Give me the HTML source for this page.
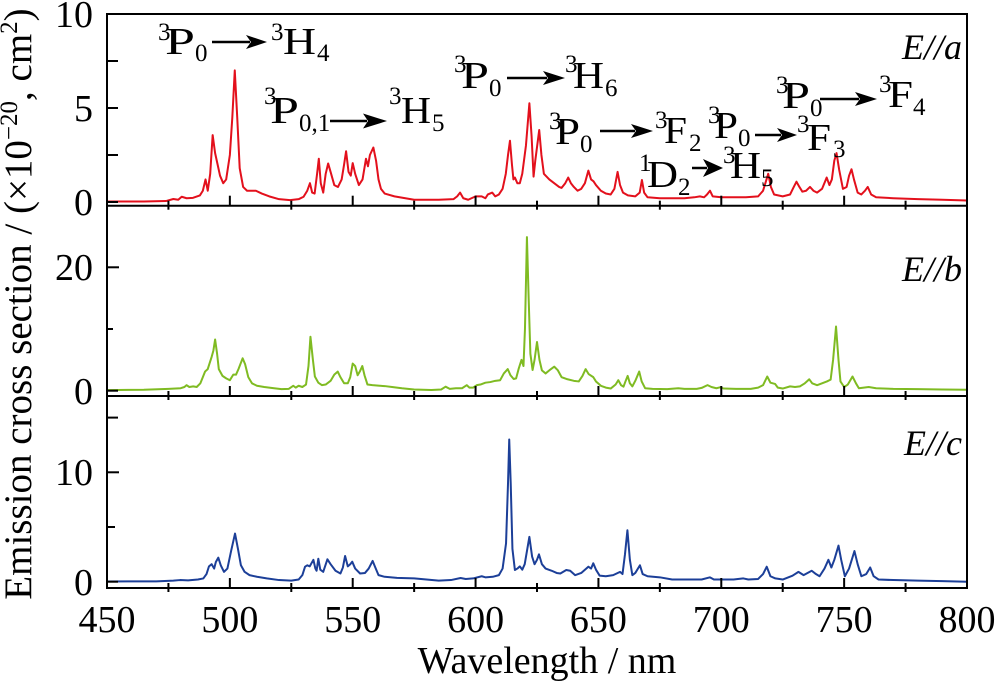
<!DOCTYPE html>
<html><head><meta charset="utf-8"><style>
html,body{margin:0;padding:0;background:#fff;}
svg{display:block;}
text{font-family:"Liberation Serif","DejaVu Serif",serif;fill:#000;}
</style></head><body>
<svg id="s" width="1000" height="692" viewBox="0 0 1000 692" xmlns="http://www.w3.org/2000/svg" font-family="'Liberation Serif', serif">
<rect x="0" y="0" width="1000" height="692" fill="#fff"/>
<g id="curves" fill="none" stroke-width="2" stroke-linejoin="round" stroke-linecap="round"></g>
<g id="axes" stroke="#000" stroke-width="2" fill="none">
 <rect x="107" y="14" width="860" height="574"/>
 <line x1="107" y1="205.7" x2="967" y2="205.7"/>
 <line x1="107" y1="396" x2="967" y2="396"/>
</g>
<g id="ticks" stroke="#000" stroke-width="2"></g>

<!-- y tick labels -->
<g font-size="38" text-anchor="end" font-family="'Liberation Serif', serif">
 <text x="93" y="27">10</text>
 <text x="93" y="121">5</text>
 <text x="93" y="215">0</text>
 <text x="93" y="280">20</text>
 <text x="93" y="404">0</text>
 <text x="93" y="485">10</text>
 <text x="93" y="595">0</text>
</g>
<!-- x tick labels -->
<g font-size="38" text-anchor="middle" font-family="'Liberation Serif', serif">
 <text x="107" y="632">450</text>
 <text x="229.9" y="632">500</text>
 <text x="352.7" y="632">550</text>
 <text x="475.6" y="632">600</text>
 <text x="598.4" y="632">650</text>
 <text x="721.3" y="632">700</text>
 <text x="844.1" y="632">750</text>
 <text x="967" y="632">800</text>
</g>
<text x="547" y="673" font-size="38" text-anchor="middle" font-family="'Liberation Serif', serif">Wavelength / nm</text>
<text transform="translate(31,304) rotate(-90)" font-size="39" text-anchor="middle" font-family="'Liberation Serif', serif">Emission cross section / (×10<tspan dy="-14" font-size="25">−20</tspan><tspan dy="14">, cm</tspan><tspan dy="-14" font-size="25">2</tspan><tspan dy="14">)</tspan></text>

<!-- panel labels -->
<g font-size="36" font-style="italic" text-anchor="end" font-family="'Liberation Serif', serif">
 <text x="962" y="59">E//a</text>
 <text x="962" y="281">E//b</text>
 <text x="962" y="455">E//c</text>
</g>

<!-- annotations -->
<g id="ann" font-family="'Liberation Serif', serif">
 <!-- 3P0 -> 3H4 -->
 <text x="158" y="40" font-size="25">3</text>
 <text x="165" y="54" font-size="38" textLength="30" lengthAdjust="spacingAndGlyphs">P</text>
 <text x="195" y="61" font-size="25">0</text>
 <text x="271" y="40" font-size="25">3</text>
 <text x="283" y="54" font-size="38" textLength="33" lengthAdjust="spacingAndGlyphs">H</text>
 <text x="317" y="61" font-size="25">4</text>
 <!-- 3P0,1 -> 3H5 -->
 <text x="264" y="104" font-size="25">3</text>
 <text x="270" y="123" font-size="38" textLength="29" lengthAdjust="spacingAndGlyphs">P</text>
 <text x="299" y="131" font-size="25">0,1</text>
 <text x="389" y="104" font-size="25">3</text>
 <text x="401" y="123" font-size="38" textLength="30" lengthAdjust="spacingAndGlyphs">H</text>
 <text x="432" y="131" font-size="25">5</text>
 <!-- 3P0 -> 3H6 -->
 <text x="454" y="72" font-size="25">3</text>
 <text x="461" y="88" font-size="38" textLength="28" lengthAdjust="spacingAndGlyphs">P</text>
 <text x="489" y="96" font-size="25">0</text>
 <text x="565" y="72" font-size="25">3</text>
 <text x="573" y="88" font-size="38" textLength="31" lengthAdjust="spacingAndGlyphs">H</text>
 <text x="605" y="96" font-size="25">6</text>
 <!-- 3P0 -> 3F2 -->
 <text x="549" y="129" font-size="25">3</text>
 <text x="555" y="144" font-size="38" textLength="25" lengthAdjust="spacingAndGlyphs">P</text>
 <text x="580" y="152" font-size="25">0</text>
 <text x="655" y="128" font-size="25">3</text>
 <text x="664" y="143" font-size="38" textLength="23" lengthAdjust="spacingAndGlyphs">F</text>
 <text x="689" y="151" font-size="25">2</text>
 <!-- 3P0 -> 3F3 -->
 <text x="708" y="123" font-size="25">3</text>
 <text x="714" y="138" font-size="38" textLength="24" lengthAdjust="spacingAndGlyphs">P</text>
 <text x="738" y="146" font-size="25">0</text>
 <text x="797" y="132" font-size="25">3</text>
 <text x="807" y="150" font-size="38" textLength="24" lengthAdjust="spacingAndGlyphs">F</text>
 <text x="833" y="157" font-size="25">3</text>
 <!-- 3P0 -> 3F4 -->
 <text x="776" y="93" font-size="25">3</text>
 <text x="782" y="108" font-size="38" textLength="28" lengthAdjust="spacingAndGlyphs">P</text>
 <text x="810" y="116" font-size="25">0</text>
 <text x="879" y="92" font-size="25">3</text>
 <text x="888" y="107" font-size="38" textLength="25" lengthAdjust="spacingAndGlyphs">F</text>
 <text x="913" y="115" font-size="25">4</text>
 <!-- 1D2 -> 3H5 -->
 <text x="639" y="171" font-size="25">1</text>
 <text x="647" y="187" font-size="38" textLength="31" lengthAdjust="spacingAndGlyphs">D</text>
 <text x="678" y="195" font-size="25">2</text>
 <text x="723" y="163" font-size="25">3</text>
 <text x="730" y="178" font-size="38" textLength="31" lengthAdjust="spacingAndGlyphs">H</text>
 <text x="761" y="186" font-size="25">5</text>
</g>
<g id="arrows"></g>
</svg>
<script>
(function(){
var NS="http://www.w3.org/2000/svg";
function X(l){return 107+(l-450)*860/350;}
function el(tag,attrs,parent){var e=document.createElementNS(NS,tag);for(var k in attrs)e.setAttribute(k,attrs[k]);parent.appendChild(e);return e;}
var red=[[450,0.03],[465,0.03],[474,0.05],[477,0.16],[479,0.12],[480.4,0.28],[482.4,0.2],[485,0.22],[487.8,0.35],[489,0.6],[490.1,1.2],[491,0.6],[492,1.5],[493,3.56],[494,2.6],[495,2.0],[496,1.4],[497.3,1.0],[498.5,1.2],[500,2.5],[501,4.5],[502,7.0],[503,4.5],[504,1.8],[505.4,0.8],[507,0.6],[510.6,0.6],[513,0.45],[516,0.3],[520,0.15],[524.5,0.1],[528,0.15],[530,0.28],[531.5,0.6],[532.6,1.0],[533.5,0.5],[534.5,0.45],[535.5,1.5],[536.2,2.3],[537,1.0],[538,0.5],[539,1.5],[540,2.05],[541,1.6],[542.5,0.9],[544,0.8],[545.5,1.2],[546.5,2.0],[547.3,2.7],[548.3,1.6],[549.2,1.4],[550,2.07],[551,1.5],[552.5,0.9],[554,1.2],[555.4,2.3],[556.2,1.9],[557,2.5],[558.4,2.9],[559.5,2.2],[560.5,1.2],[561.5,0.7],[563,0.45],[567,0.3],[575,0.12],[585,0.12],[591,0.15],[592.5,0.3],[593.7,0.5],[595,0.2],[597,0.12],[600,0.3],[602.5,0.3],[604,0.2],[605,0.4],[606.8,0.5],[608,0.3],[609.5,0.4],[611,0.7],[612.3,1.5],[613.2,2.5],[614,3.26],[614.8,2.0],[615.4,1.2],[616,1.3],[617,1.0],[618,1.0],[619,1.5],[620.5,3.0],[621.9,5.25],[622.8,3.5],[623.6,1.35],[624.3,2.2],[625.9,3.83],[626.8,2.5],[627.8,1.5],[630,1.2],[632,1.0],[634,0.8],[635,0.75],[636.5,1.0],[637.7,1.3],[638.8,1.0],[640,0.8],[641.5,0.6],[643,0.7],[644.5,1.0],[645.9,1.67],[647,1.2],[648,1.1],[649,0.9],[651,0.6],[653,0.45],[655,0.4],[656.5,0.7],[657.8,1.6],[658.8,0.9],[660,0.5],[662,0.35],[665,0.3],[666.8,0.5],[667.7,1.17],[668.6,0.5],[670,0.25],[675,0.2],[685,0.2],[689,0.25],[691.3,0.3],[693,0.25],[694.2,0.4],[695.4,0.6],[696.5,0.3],[700,0.25],[710,0.25],[715,0.3],[717,0.6],[719.1,1.5],[720.2,0.8],[721.5,0.4],[725,0.3],[728,0.4],[729.5,0.8],[730.6,1.08],[731.8,0.8],[733,0.55],[734.5,0.6],[736.1,0.8],[737.5,0.6],[739,0.5],[741,0.7],[742.9,1.3],[744,0.9],[745,1.2],[746,2.2],[746.9,2.6],[748,1.7],[749.5,0.7],[751,0.8],[752,1.4],[753,1.74],[754,1.2],[755.5,0.5],[757,0.4],[758.5,0.6],[759.6,0.8],[761,0.4],[763,0.25],[770,0.2],[780,0.15],[790,0.12],[800,0.08]];
var green=[[450,0.1],[465,0.15],[475,0.3],[480,0.4],[481.5,0.6],[482.4,0.9],[483.5,0.6],[485.1,0.7],[486.5,0.6],[488,1.2],[489.9,3.1],[491,3.5],[492.6,5.5],[493.3,6.5],[494,8.3],[494.8,6.0],[495.5,3.5],[497,2.4],[498.5,2.0],[500,1.7],[501.4,2.6],[502.5,2.6],[503.5,3.5],[505.2,5.25],[506.2,4.3],[507.5,2.2],[509,1.2],[511,0.8],[514,0.6],[518,0.4],[521,0.25],[524,0.3],[525.8,0.8],[526.8,0.5],[528,0.8],[529.5,0.6],[531,1.0],[532,4],[532.8,8.75],[533.8,5.0],[534.6,2.3],[536,1.3],[537.5,0.9],[539,1.0],[541,1.6],[542.5,2.6],[543.9,3.1],[545,2.2],[546.5,1.2],[548,1.2],[549,2.2],[550,4.4],[551,4.0],[552,2.5],[553,3.2],[553.9,4.0],[554.8,2.5],[556,1.0],[558,0.9],[561,0.8],[563,0.75],[566,0.6],[570,0.4],[575,0.2],[582,0.12],[586,0.2],[587.8,0.65],[589.5,0.3],[592,0.4],[594.5,0.4],[596.4,0.9],[597.5,0.5],[599,0.5],[600.5,0.9],[602,1.0],[604,1.3],[606,1.4],[608,1.6],[610,1.7],[611.5,2.8],[613.1,3.5],[614.2,2.5],[615.5,1.9],[616.5,2.0],[617.5,3.5],[618.7,5.0],[619.5,4.0],[620.1,10],[620.9,24.9],[621.6,15],[622.3,6],[623.2,3.35],[624,5],[625,7.9],[626,5],[627,3.3],[628.5,2.8],[630,3.3],[632,3.9],[633.5,3.3],[635,2.2],[637,1.9],[640,1.6],[642,1.5],[643.5,2.4],[644.8,3.5],[646,2.7],[647.9,2.2],[649,1.5],[651,0.8],[653,0.5],[655,0.35],[657,1.0],[658.1,1.7],[659.2,0.9],[660.2,0.65],[661,1.5],[661.9,2.4],[662.8,1.2],[663.8,0.7],[665,1.6],[666.6,3.1],[667.6,1.5],[669,0.4],[672,0.3],[678,0.25],[682.5,0.4],[685,0.3],[690,0.3],[692,0.45],[694.4,0.9],[696,0.6],[698,0.4],[699.5,0.55],[701,0.35],[706,0.3],[712,0.3],[715,0.5],[717,0.9],[718.7,2.3],[720,1.3],[721.9,1.1],[723,0.5],[725,0.35],[728,0.7],[730,0.6],[732,0.7],[734,1.2],[735.8,1.85],[737,1.2],[739,0.9],[741,1.2],[743,1.5],[744.5,1.8],[745.5,5],[746.7,10.4],[747.7,5],[748.5,1.5],[750,0.6],[751.5,1.0],[753.4,2.3],[754.8,1.2],[756,0.4],[758,0.5],[760,0.6],[763,0.4],[770,0.3],[780,0.25],[790,0.2],[800,0.15]];
var blue=[[450,0.02],[470,0.03],[477,0.1],[479.7,0.15],[483,0.12],[487,0.2],[489.2,0.3],[490.5,0.7],[491.5,1.4],[492.6,1.6],[493.6,1.2],[494.3,1.8],[495.3,2.2],[496.3,1.5],[497.6,0.9],[499,1.2],[500.5,2.8],[502.1,4.4],[503.3,3.0],[504.5,1.5],[506,0.9],[508,0.6],[511,0.45],[515,0.3],[520,0.15],[525,0.1],[528,0.2],[529.5,0.6],[530.6,1.37],[531.5,1.5],[532.5,1.4],[534,2.0],[534.8,1.2],[535.3,1.0],[536,2.1],[536.8,1.1],[538,0.9],[539.7,2.05],[541,1.6],[543,1.0],[545,0.75],[546,1.3],[546.9,2.35],[548,1.4],[549,1.6],[549.8,1.83],[551,1.2],[553,0.75],[555,0.8],[556.5,1.2],[558.1,1.9],[559.2,1.3],[560.5,0.6],[563,0.45],[568,0.35],[575,0.3],[580,0.2],[585,0.1],[590,0.15],[593.9,0.34],[596,0.25],[599,0.3],[602.5,0.5],[604,0.4],[607,0.45],[609.5,0.6],[611,1.2],[612.4,3.5],[613.2,9],[613.7,13.0],[614.3,9],[615,3],[616,1.07],[617,1.2],[618,1.4],[619,1.1],[620,1.6],[621.9,4.1],[623,2.3],[624,1.6],[625,2.0],[625.8,2.5],[627,1.6],[628.5,1.2],[631,1.0],[633,0.8],[634.5,0.75],[636.9,1.07],[638.5,1.0],[640.5,0.6],[643,0.8],[645.9,1.37],[647,1.2],[647.9,1.68],[649,1.1],[650.5,0.55],[653,0.5],[656,0.6],[658.8,0.9],[659.8,0.7],[660.8,2.5],[661.8,4.7],[662.8,2.0],[663.8,0.6],[665,0.8],[666.9,1.5],[668,0.7],[670,0.5],[675,0.4],[680,0.2],[686,0.2],[692,0.2],[695.4,0.4],[697,0.2],[705,0.2],[709,0.3],[711,0.2],[715,0.25],[717,0.7],[718.5,1.37],[720,0.5],[722,0.3],[725,0.2],[729,0.55],[731.4,0.9],[733.5,0.6],[736.8,1.0],[738.5,0.7],[740,0.5],[742,1.2],[743.6,2.0],[744.8,1.3],[746,2.0],[747.7,3.3],[748.8,2.0],[750.3,0.5],[752,1.2],[754.2,2.8],[755.5,1.6],[757,0.5],[759,0.7],[760.6,1.3],[762,0.5],[764,0.2],[770,0.15],[780,0.1],[790,0.05],[800,0.0]];
function mk(d,y0,k){var s='';for(var i=0;i<d.length;i++){s+=(i?'L':'M')+X(d[i][0]).toFixed(2)+','+(y0-d[i][1]*k).toFixed(2);}return s;}
var cg=document.getElementById('curves');
el('path',{d:mk(red,202,18.8),stroke:'#e3101c'},cg);
el('path',{d:mk(green,390.7,6.17),stroke:'#7fbb22'},cg);
el('path',{d:mk(blue,581.7,10.94),stroke:'#1c3f98'},cg);

var tg=document.getElementById('ticks');
function tk(x1,y1,x2,y2){el('line',{x1:x1,y1:y1,x2:x2,y2:y2},tg);}
[[202,11],[155,11],[108,11],[61,11],[14,11]].forEach(function(t){tk(107,t[0],107+t[1],t[0]);});
[[390.7,11],[329,6],[267.3,12]].forEach(function(t){tk(107,t[0],107+t[1],t[0]);});
[[581.7,11],[527,8],[472.3,12],[417.6,11]].forEach(function(t){tk(107,t[0],107+t[1],t[0]);});
[205.7,396,588].forEach(function(yb){
  for(var l=450;l<=800;l+=50){var x=X(l);tk(x,yb,x,yb-10);}
  for(var l=475;l<800;l+=50){var x=X(l);tk(x,yb+4,x,yb-5);}
});

var ag=document.getElementById('arrows');
function arrow(x1,x2,y,L,h){
  el('line',{x1:x1,y1:y,x2:x2-L+4,y2:y,stroke:'#000','stroke-width':2.5},ag);
  el('polygon',{points:x2+','+y+' '+(x2-L)+','+(y-h)+' '+(x2-L+5)+','+y+' '+(x2-L)+','+(y+h),fill:'#000'},ag);
}
arrow(212,267,42,21,7);
arrow(330,387,121,24,7.5);
arrow(507,565,78,22,7);
arrow(600,653,131,22,7);
arrow(755,797,135,20,7);
arrow(820,877,99,22,7);
arrow(692,723,168,20,9);
})();
</script>
</body></html>
